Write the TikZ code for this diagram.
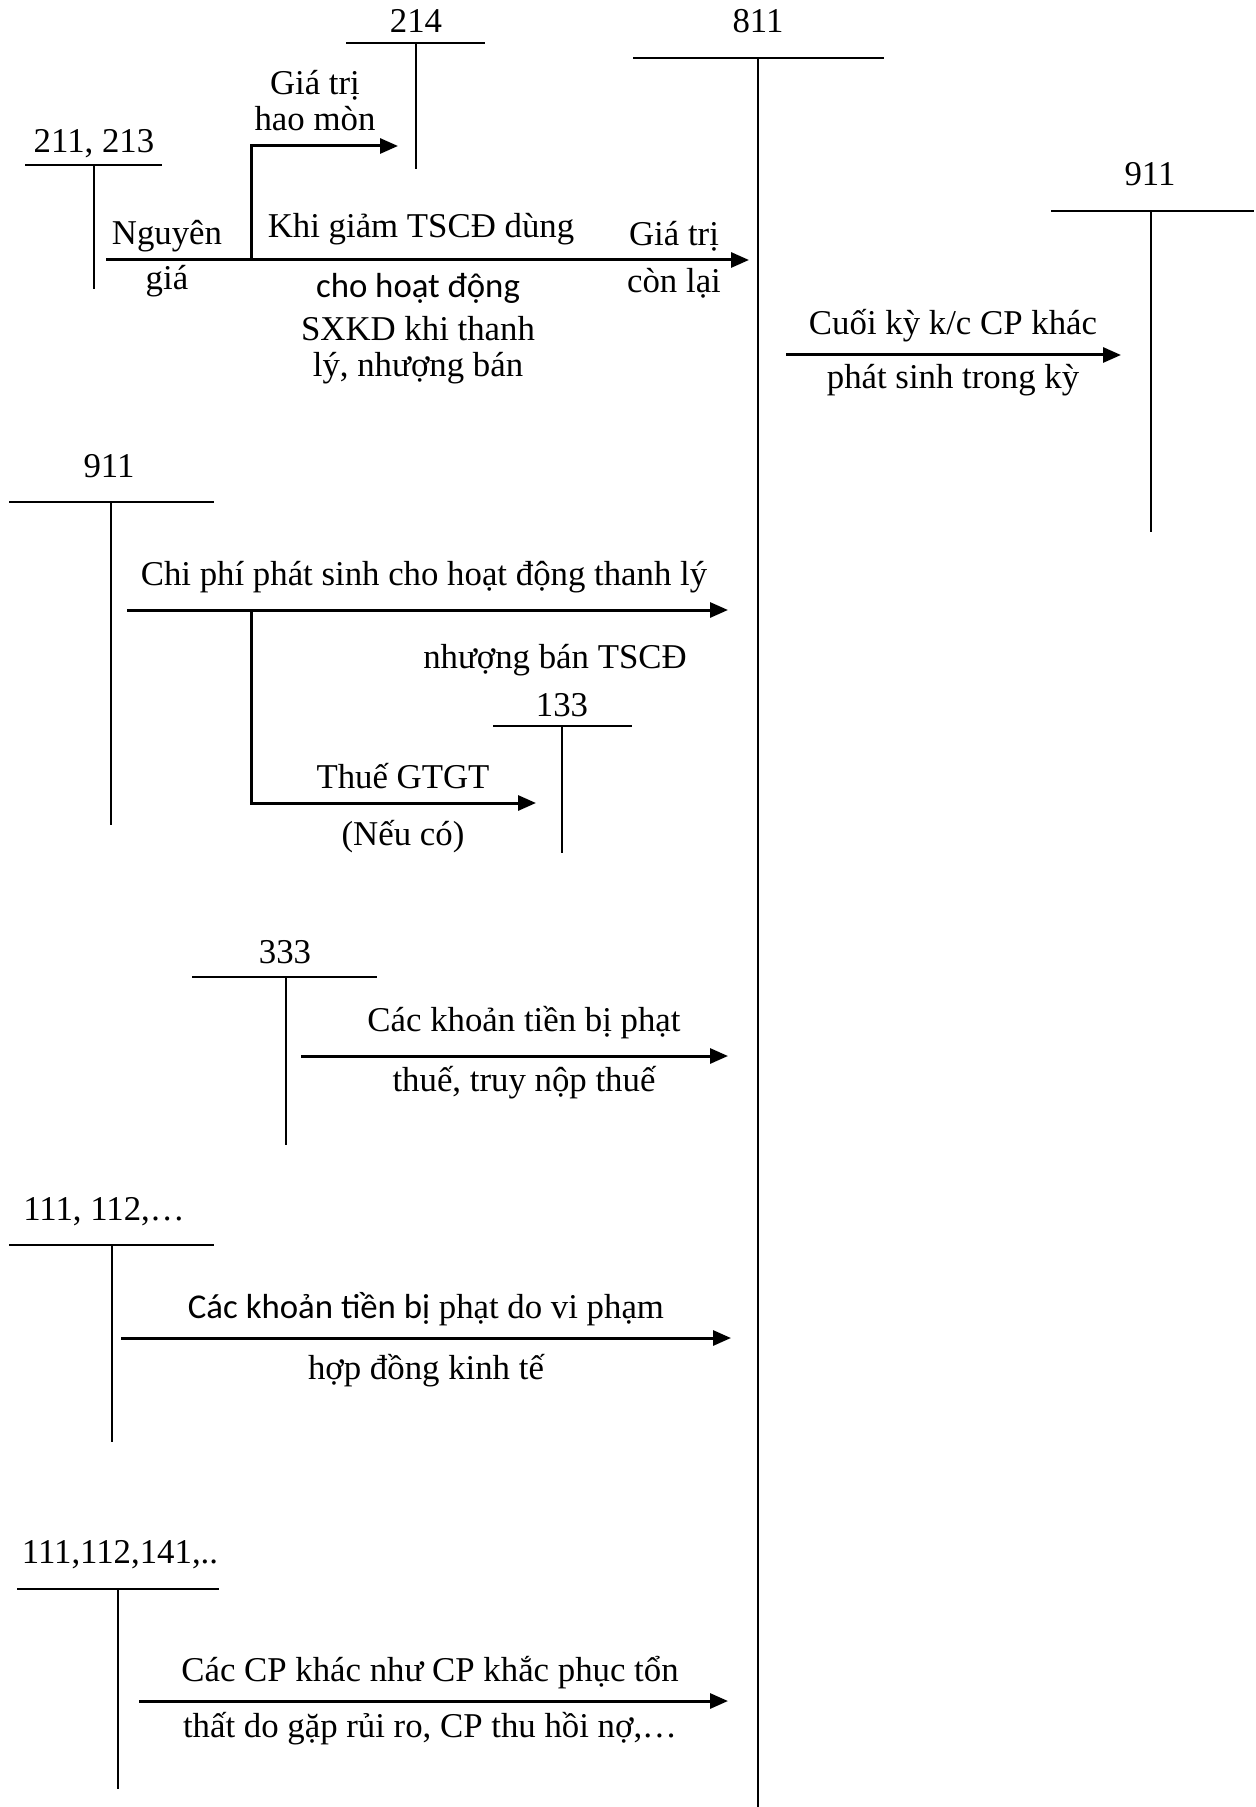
\documentclass[tikz,border=0pt]{standalone}
\usepackage{fontspec}
\setmainfont{Liberation Serif}
\newfontfamily\calib{Carlito}
\usetikzlibrary{arrows.meta}

\begin{document}
\begin{tikzpicture}[x=0.5pt,y=-0.5pt,
  tline/.style={line width=0.8pt},
  flow/.style={line width=1.5pt,-{Triangle[length=9pt,width=7.5pt]}},
  every node/.style={font=\fontsize{17.4}{20}\selectfont,inner sep=0pt,align=center}]
\useasboundingbox (0,0) rectangle (1255,1807);

% tai khoan chu T
\node (n214) at (416,21) {214};
\draw[tline] (346,43) -- (485,43) (416,43) -- (416,169);
\node (n811) at (758,21) {811};
\draw[tline] (633,58) -- (884,58) (758,58) -- (758,1807);
\node (n211) at (94,144) {211, 213};
\draw[tline] (25,165) -- (162,165) (94,165) -- (94,289);
\node (n911a) at (1150,174) {911};
\draw[tline] (1051,211) -- (1254,211) (1151,211) -- (1151,532);
\node (n911b) at (109,466) {911};
\draw[tline] (9,502) -- (214,502) (111,502) -- (111,825);
\node (n133) at (562,705) {133};
\draw[tline] (493,726) -- (632,726) (562,726) -- (562,853);
\node (n333) at (285,952) {333};
\draw[tline] (192,977) -- (377,977) (286,977) -- (286,1145);
\node (n111) at (104,1212) {111, 112,…};
\draw[tline] (9,1245) -- (214,1245) (112,1245) -- (112,1442);
\node (n141) at (120,1555) {111,112,141,..};
\draw[tline] (17,1589) -- (219,1589) (118,1589) -- (118,1789);

% but toan
\coordinate (a1) at (106,260); \coordinate (b1) at (749,260);
\coordinate (c1) at (251,260); \coordinate (d1) at (398,146);
\draw[flow] (a1) -- (b1);
\draw[flow] (c1) |- (d1);
\coordinate (a2) at (786,355); \coordinate (b2) at (1121,355);
\draw[flow] (a2) -- (b2);
\coordinate (a3) at (127,610); \coordinate (b3) at (728,610);
\coordinate (c3) at (251,610); \coordinate (d3) at (536,803);
\draw[flow] (a3) -- (b3);
\draw[flow] (c3) |- (d3);
\coordinate (a4) at (301,1056); \coordinate (b4) at (728,1056);
\draw[flow] (a4) -- (b4);
\coordinate (a5) at (121,1338); \coordinate (b5) at (731,1338);
\draw[flow] (a5) -- (b5);
\coordinate (a6) at (139,1701); \coordinate (b6) at (728,1701);
\draw[flow] (a6) -- (b6);

% noi dung
\node (hm) at (315,101) {Giá trị\\[-2pt]hao mòn};
\node (ng1) at (167,236) {Nguyên};
\node (ng2) at (167,281) {giá};
\node (kg) at (421,229) {Khi giảm TSCĐ dùng};
\node (kg2) at (418,288) {\calib cho hoạt động};
\node (kg3) at (418,350) {SXKD khi thanh\\[-2pt]lý, nhượng bán};
\node (gt1) at (674,236) {Giá trị};
\node (gt2) at (674,283) {còn lại};
\node (ck1) at (953,326) {Cuối kỳ k/c CP khác};
\node (ck2) at (953,380) {phát sinh trong kỳ};
\node (cp1) at (424,577) {Chi phí phát sinh cho hoạt động thanh lý};
\node (cp2) at (555,660) {nhượng bán TSCĐ};
\node (vat1) at (403,776) {Thuế GTGT};
\node (vat2) at (403,837) {(Nếu có)};
\node (ph1) at (524,1023) {Các khoản tiền bị phạt};
\node (ph2) at (524,1083) {thuế, truy nộp thuế};
\node (vp1) at (426,1309) {{\calib Các khoản tiền bị} phạt do vi phạm};
\node (vp2) at (426,1371) {hợp đồng kinh tế};
\node (kh1) at (430,1673) {Các CP khác như CP khắc phục tổn};
\node (kh2) at (430,1729) {thất do gặp rủi ro, CP thu hồi nợ,…};
\end{tikzpicture}
\end{document}
